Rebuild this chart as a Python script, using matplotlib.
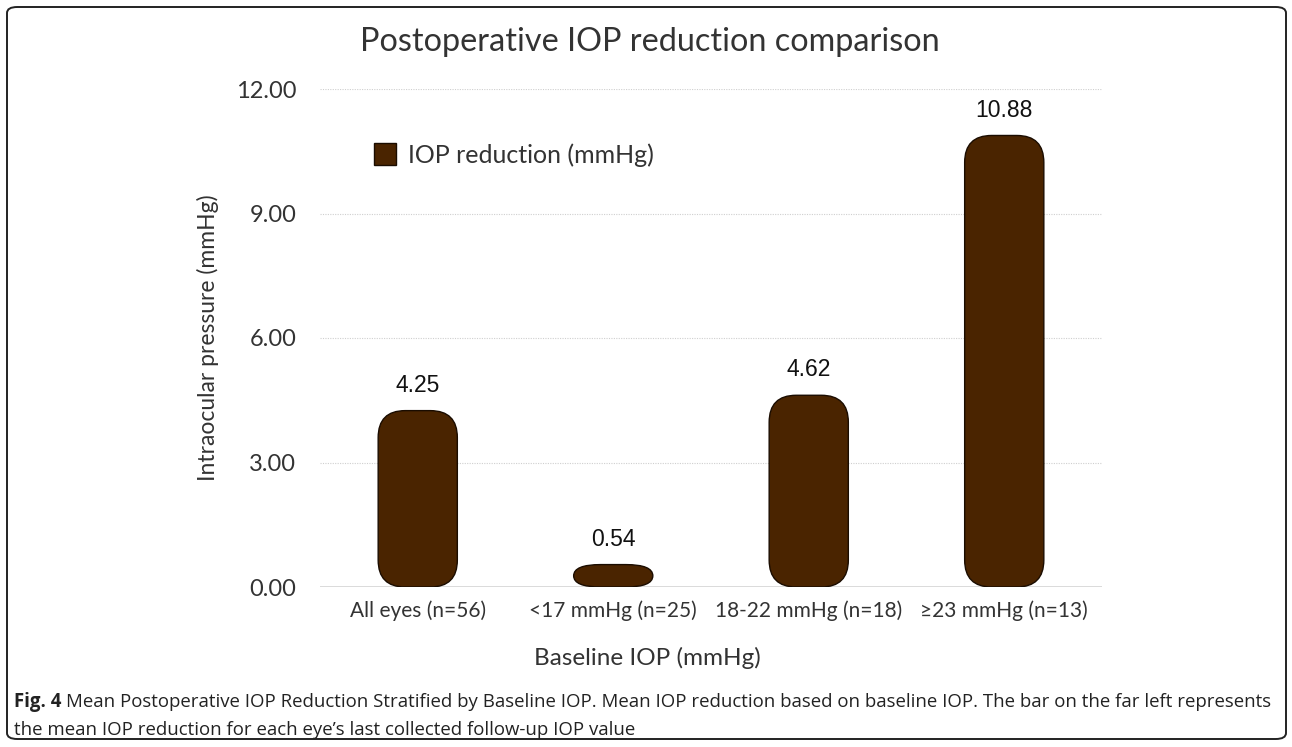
import matplotlib.pyplot as plt
from matplotlib.patches import FancyBboxPatch, PathPatch
from matplotlib.path import Path
from matplotlib.lines import Line2D

# IOP reduction by baseline group
groups = ['All eyes (n=56)', '<17 mmHg (n=25)', '18-22 mmHg (n=18)', '\u226523 mmHg (n=13)']
reduction = [4.25, 0.54, 4.62, 10.88]
yticks = [0, 3, 6, 9, 12]

BAR_COLOR = '#4a2400'
TEXT_COLOR = '#333333'
UI_FONT = ['Lato', 'DejaVu Sans']
NUM_FONT = ['Liberation Sans', 'DejaVu Sans']
CAP_FONT = ['Open Sans', 'DejaVu Sans']

W, H = 1292, 747
fig = plt.figure(figsize=(W / 100, H / 100), dpi=100)

# frame around the whole figure
frame = FancyBboxPatch((7 / W, 8 / H), 1279 / W, 732 / H,
                       boxstyle='round,pad=0,rounding_size=0.008',
                       transform=fig.transFigure, facecolor='none',
                       edgecolor='#222222', linewidth=1.4)
fig.patches.append(frame)

AX_W, AX_H = 782, 498
ax = fig.add_axes([320 / W, (H - 587) / H, AX_W / W, AX_H / H])
ax.set_xlim(-0.5, len(groups) - 0.5)
ax.set_ylim(0, 12)

for s in ax.spines.values():
    s.set_visible(False)
ax.axhline(0, color='#d4d4d4', linewidth=1.2, zorder=1)
for t in yticks[1:]:
    ax.axhline(t, color='#cfcfcf', linewidth=0.8, linestyle=(0, (1, 1.2)), zorder=0)


def rounded_bar(x0, w, h, rx, ry):
    # rounded rectangle from y=0 to y=h, corners as quadratic curves
    ry = min(ry, h / 2)
    x1 = x0 + w
    verts = [
        (x0 + rx, 0), (x1 - rx, 0),
        (x1, 0), (x1, ry),
        (x1, h - ry),
        (x1, h), (x1 - rx, h),
        (x0 + rx, h),
        (x0, h), (x0, h - ry),
        (x0, ry),
        (x0, 0), (x0 + rx, 0),
        (x0 + rx, 0),
    ]
    codes = [Path.MOVETO, Path.LINETO,
             Path.CURVE3, Path.CURVE3,
             Path.LINETO,
             Path.CURVE3, Path.CURVE3,
             Path.LINETO,
             Path.CURVE3, Path.CURVE3,
             Path.LINETO,
             Path.CURVE3, Path.CURVE3,
             Path.CLOSEPOLY]
    return Path(verts, codes)


# corner radius given in pixels, converted to data units per axis
px_per_x = AX_W / len(groups)
px_per_y = AX_H / 12
bar_w = 0.405
corner_px = 27
for i, v in enumerate(reduction):
    path = rounded_bar(i - bar_w / 2, bar_w, v, corner_px / px_per_x, corner_px / px_per_y)
    ax.add_patch(PathPatch(path, facecolor=BAR_COLOR, edgecolor='#1a0c00',
                           linewidth=1.0, zorder=2))
    ax.annotate(f'{v:.2f}', (i, v), xytext=(0, 10), textcoords='offset points',
                ha='center', va='bottom', fontsize=16.5, family=NUM_FONT,
                color='#111111')

ax.set_xticks(range(len(groups)))
ax.set_xticklabels(groups, family=UI_FONT, fontsize=15, color=TEXT_COLOR)
ax.set_yticks(yticks)
ax.set_yticklabels([f'{t:.2f}' for t in yticks], family=UI_FONT,
                   fontsize=17, color=TEXT_COLOR)
ax.tick_params(axis='both', length=0)
ax.tick_params(axis='y', pad=17)
ax.tick_params(axis='x', pad=10)

ax.set_ylabel('Intraocular pressure (mmHg)', family=UI_FONT, fontsize=16.5,
              color=TEXT_COLOR, labelpad=12)
fig.text(647 / W, 1 - 658 / H, 'Baseline IOP (mmHg)', ha='center', va='center',
         family=UI_FONT, fontsize=17.5, color=TEXT_COLOR)

fig.text(650 / W, 1 - 42 / H, 'Postoperative IOP reduction comparison',
         ha='center', va='center', family=UI_FONT, fontsize=23.3, color=TEXT_COLOR)

# legend
handle = Line2D([], [], marker='s', linestyle='none', markersize=16.5,
                markerfacecolor=BAR_COLOR, markeredgecolor='#1a0c00')
leg = ax.legend([handle], ['IOP reduction (mmHg)'], loc='upper left',
                bbox_to_anchor=(42 / AX_W, 1 - 44 / AX_H), frameon=False,
                prop={'family': UI_FONT, 'size': 18}, handlelength=1.0,
                handletextpad=0.45, borderaxespad=0)
for t in leg.get_texts():
    t.set_color(TEXT_COLOR)

# caption: bold figure number followed by the description
cap_size = 13.4
fig_no = fig.text(14 / W, 1 - 702 / H, 'Fig. 4', ha='left', va='center',
                  family=CAP_FONT, fontweight='bold', fontsize=cap_size, color='#222222')
renderer = fig.canvas.get_renderer()
bb = fig_no.get_window_extent(renderer)
fig.text((bb.x1 + 5) / W, 1 - 702 / H,
         'Mean Postoperative IOP Reduction Stratified by Baseline IOP. Mean IOP reduction '
         'based on baseline IOP. The bar on the far left represents',
         ha='left', va='center', family=CAP_FONT, fontsize=cap_size, color='#222222')
fig.text(14 / W, 1 - 730 / H,
         'the mean IOP reduction for each eye\u2019s last collected follow-up IOP value',
         ha='left', va='center', family=CAP_FONT, fontsize=cap_size, color='#222222')

fig.savefig('out.png', dpi=100)
